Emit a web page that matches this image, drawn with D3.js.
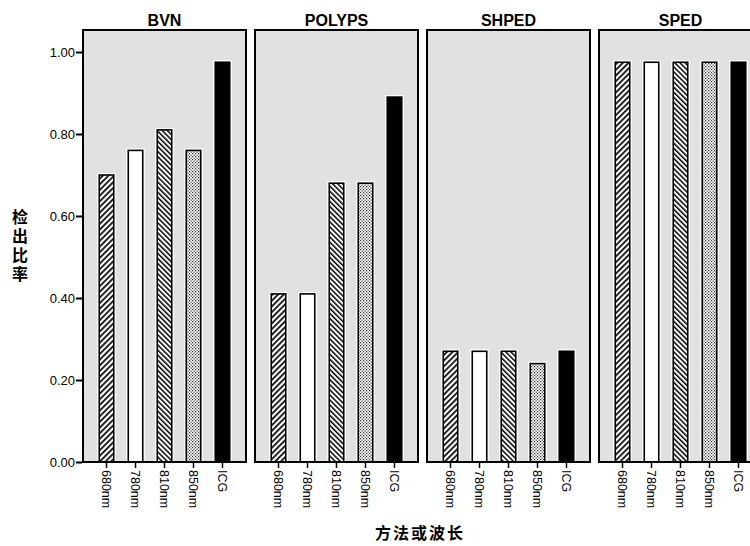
<!DOCTYPE html>
<html>
<head>
<meta charset="utf-8">
<script src="https://cdn.jsdelivr.net/npm/d3@7"></script>
<style>
  body { margin: 0; background: #fff; }
  svg { display: block; font-family: Arial, "Liberation Sans", sans-serif; }
</style>
</head>
<body>
<svg width="750" height="546"></svg>
<script>
// data
var groups = ["BVN", "POLYPS", "SHPED", "SPED"];
var methods = ["680nm", "780nm", "810nm", "850nm", "ICG"];
var bvn = [0.70, 0.76, 0.81, 0.76, 0.975];
var polyps = [0.41, 0.41, 0.68, 0.68, 0.89];
var shped = [0.27, 0.27, 0.27, 0.24, 0.27];
var sped = [0.975, 0.975, 0.975, 0.975, 0.975];
var yTicks = [0, 0.2, 0.4, 0.6, 0.8, 1.0];

var values = [bvn, polyps, shped, sped];

var svg = d3.select("svg");

var plotTop = 30, plotBottom = 462;
var panelW = 163, panelStep = 172, left = 83;

var y = d3.scaleLinear().domain([0, 1]).range([plotBottom, 52]);

var panelScale = d3.scaleBand().domain(groups)
    .range([left, left + panelStep * groups.length]);

// patterns
var defs = svg.append("defs");
var p1 = defs.append("pattern").attr("id", "fwd")
    .attr("patternUnits", "userSpaceOnUse").attr("width", 4).attr("height", 4)
    .attr("patternTransform", "rotate(45)");
p1.append("rect").attr("width", 4).attr("height", 4).attr("fill", "#fff");
p1.append("rect").attr("width", 1.7).attr("height", 4).attr("fill", "#000");

var p2 = defs.append("pattern").attr("id", "back")
    .attr("patternUnits", "userSpaceOnUse").attr("width", 3.6).attr("height", 4)
    .attr("patternTransform", "rotate(-45)");
p2.append("rect").attr("width", 3.6).attr("height", 4).attr("fill", "#fff");
p2.append("rect").attr("width", 1.5).attr("height", 4).attr("fill", "#000");

var p3 = defs.append("pattern").attr("id", "dots")
    .attr("patternUnits", "userSpaceOnUse").attr("width", 3).attr("height", 3);
p3.append("rect").attr("width", 3).attr("height", 3).attr("fill", "#fff");
p3.append("rect").attr("width", 1.2).attr("height", 1.2).attr("fill", "#333");
p3.append("rect").attr("x", 1.5).attr("y", 1.5).attr("width", 1.2).attr("height", 1.2).attr("fill", "#333");

var fills = ["url(#fwd)", "#fff", "url(#back)", "url(#dots)", "#000"];

groups.forEach(function (g, i) {
    var px = panelScale(g);
    var x = d3.scaleBand().domain(methods)
        .range([px + 9, px + panelW - 9]).paddingInner(0.5).paddingOuter(0.25);

    var panel = svg.append("g");

    panel.append("rect")
        .attr("x", px).attr("y", plotTop)
        .attr("width", panelW).attr("height", plotBottom - plotTop)
        .attr("fill", "#e1e1e1").attr("stroke", "#000").attr("stroke-width", 2);

    panel.append("text")
        .attr("x", px + panelW / 2).attr("y", 26)
        .attr("text-anchor", "middle")
        .attr("font-size", 16).attr("font-weight", "bold")
        .text(g);

    var bars = panel.selectAll(".bar")
        .data(values[i])
        .enter().append("g");

    // white halo
    bars.append("rect")
        .attr("x", function (d, j) { return x(methods[j]) - 2; })
        .attr("y", function (d) { return y(d) - 2; })
        .attr("width", x.bandwidth() + 4)
        .attr("height", function (d) { return plotBottom - y(d) + 1; })
        .attr("fill", "#fff");

    bars.append("rect")
        .attr("x", function (d, j) { return x(methods[j]); })
        .attr("y", function (d) { return y(d); })
        .attr("width", x.bandwidth())
        .attr("height", function (d) { return plotBottom - y(d); })
        .attr("fill", function (d, j) { return fills[j]; })
        .attr("stroke", "#000").attr("stroke-width", 1.6);

    // bottom edge redrawn over the bars
    panel.append("line")
        .attr("x1", px).attr("x2", px + panelW)
        .attr("y1", plotBottom).attr("y2", plotBottom)
        .attr("stroke", "#000").attr("stroke-width", 2);

    // x axis
    var xa = panel.append("g")
        .attr("transform", "translate(0," + plotBottom + ")")
        .call(d3.axisBottom(x).tickSize(6).tickSizeOuter(0));
    xa.select(".domain").remove();
    xa.selectAll("line").attr("stroke", "#000").attr("stroke-width", 1.5);
    xa.selectAll("text")
        .attr("transform", "rotate(90)")
        .attr("x", 8).attr("y", 0).attr("dy", "0.35em")
        .attr("text-anchor", "start")
        .attr("font-size", 12.5)
        .attr("font-family", "Arial, 'Liberation Sans', sans-serif")
        .attr("fill", "#000");
});

// y axis
var ya = svg.append("g")
    .attr("transform", "translate(" + (left - 1) + ",0)")
    .call(d3.axisLeft(y).tickValues(yTicks).tickFormat(d3.format(".2f")).tickSize(6).tickSizeOuter(0));
ya.select(".domain").remove();
ya.selectAll("line").attr("stroke", "#000").attr("stroke-width", 2);
ya.selectAll("text")
    .attr("font-size", 13)
    .attr("font-family", "Arial, 'Liberation Sans', sans-serif")
    .attr("fill", "#000")
    .attr("x", -7);

// axis titles; the y title is stacked one character per line
var yTitle = "检出比率".split("");
var yt = svg.append("text")
    .attr("text-anchor", "middle")
    .attr("font-size", 16).attr("font-weight", "bold")
    .attr("font-family", "'Liberation Sans', 'Noto Sans CJK SC', sans-serif");
yt.selectAll("tspan")
    .data(yTitle).enter().append("tspan")
    .attr("x", 20)
    .attr("y", function (d, i) { return 223 + i * 19; })
    .text(function (d) { return d; });

svg.append("text")
    .attr("x", 420).attr("y", 539)
    .attr("text-anchor", "middle")
    .attr("font-size", 16).attr("font-weight", "bold")
    .attr("font-family", "'Noto Sans CJK SC', sans-serif")
    .attr("letter-spacing", 2)
    .text("方法或波长");
</script>
</body>
</html>
